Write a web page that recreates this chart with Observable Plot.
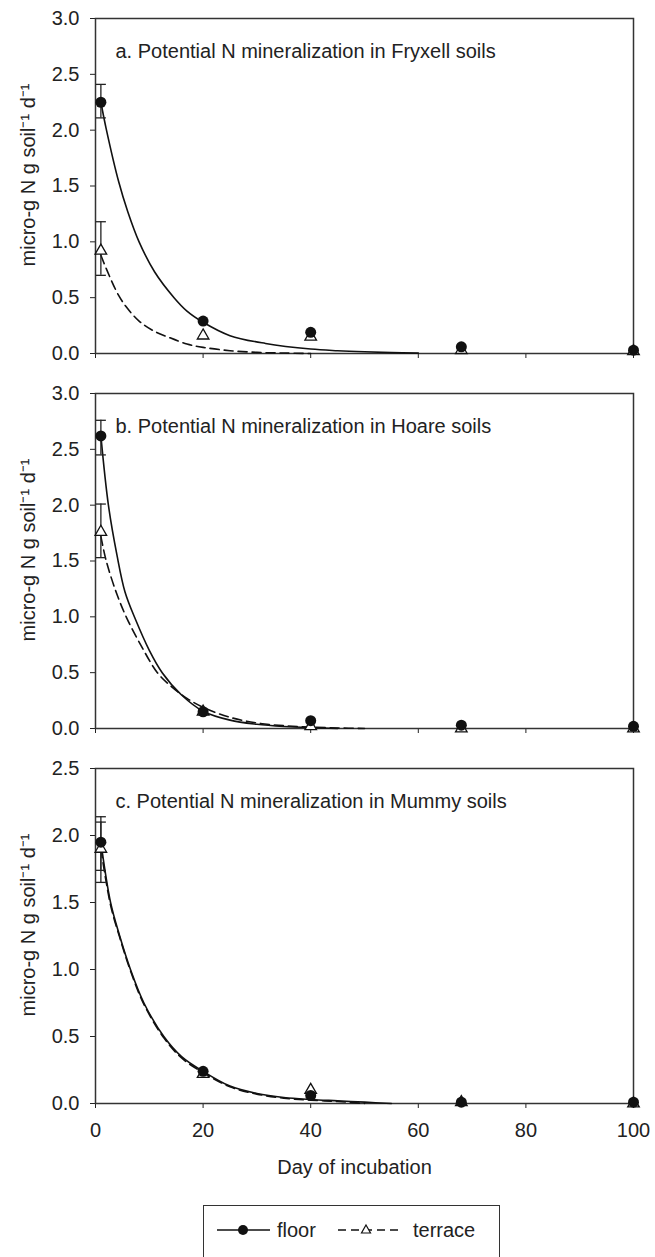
<!DOCTYPE html>
<html>
<head>
<meta charset="utf-8">
<script src="https://cdn.jsdelivr.net/npm/d3@7"></script>
<script src="https://cdn.jsdelivr.net/npm/@observablehq/plot@0.6"></script>
<style>
  html, body { margin: 0; padding: 0; background: #fff; }
  body { width: 655px; height: 1257px; overflow: hidden; position: relative;
         font-family: "Liberation Sans", Arimo, Arial, sans-serif; color: #222; }
  #charts svg { display: block; }
  #legend { position: absolute; left: 203px; top: 1205px; width: 297px; height: 60px;
            border: 1.5px solid #333; box-sizing: border-box; }
</style>
</head>
<body>
<div id="charts"></div>
<div id="legend"></div>
<script>
// ---- data ----
const days = [1, 20, 40, 68, 100];
const seriesNames = ["floor", "terrace"];
const panelTitles = [
  "a. Potential N mineralization in Fryxell soils",
  "b. Potential N mineralization in Hoare soils",
  "c. Potential N mineralization in Mummy soils"
];
const yLabel = "micro-g N g soil\u207B\u00B9 d\u207B\u00B9";
const xLabel = "Day of incubation";
const xTicks = [0, 20, 40, 60, 80, 100];
const yTicksAB = [0, 0.5, 1.0, 1.5, 2.0, 2.5, 3.0];
const yTicksC = [0, 0.5, 1.0, 1.5, 2.0, 2.5];

// measured means
const fryxellFloor   = [2.25, 0.29, 0.19, 0.06, 0.03];
const fryxellTerrace = [0.92, 0.16, 0.15, 0.03, 0.02];
const hoareFloor     = [2.62, 0.15, 0.07, 0.03, 0.02];
const hoareTerrace   = [1.76, 0.15, 0.02, 0.00, 0.00];
const mummyFloor     = [1.95, 0.24, 0.06, 0.01, 0.01];
const mummyTerrace   = [1.90, 0.22, 0.10, 0.01, 0.00];

// error bars (day 1): [low, high]
const errDay = 1;
const fryxellFloorErr   = [2.11, 2.41];
const fryxellTerraceErr = [0.70, 1.18];
const hoareFloorErr     = [2.45, 2.76];
const hoareTerraceErr   = [1.53, 2.01];
const mummyFloorErr     = [1.74, 2.14];
const mummyTerraceErr   = [1.65, 2.10];

// fitted curves
const fitFryxellFloorX = [1, 2, 4.3, 6, 8.1, 11, 14.6, 17, 20, 25, 31.6, 40, 45, 50, 55, 60];
const fitFryxellFloorY = [2.25, 2.01, 1.54, 1.27, 1.0, 0.73, 0.5, 0.38, 0.28, 0.16, 0.09, 0.04, 0.025, 0.015, 0.008, 0.003];
const fitFryxellTerraceX = [1, 2, 4.3, 6, 8.1, 10.5, 13.6, 17, 20, 25, 30, 35, 40];
const fitFryxellTerraceY = [0.88, 0.76, 0.52, 0.40, 0.29, 0.21, 0.145, 0.085, 0.055, 0.025, 0.01, 0.004, 0.0];
const fitHoareFloorX = [1, 2.4, 4, 5.5, 7.4, 10, 12.4, 16, 20, 25, 30, 35, 40, 45];
const fitHoareFloorY = [2.62, 2.0, 1.55, 1.22, 0.98, 0.7, 0.5, 0.3, 0.155, 0.075, 0.038, 0.018, 0.007, 0.0];
const fitHoareTerraceX = [1, 2, 4, 5.9, 8.5, 11.5, 14, 17, 20, 25, 30, 35, 40, 45, 50];
const fitHoareTerraceY = [1.72, 1.5, 1.2, 0.98, 0.74, 0.5, 0.38, 0.27, 0.19, 0.1, 0.05, 0.025, 0.012, 0.005, 0.0];
const fitMummyFloorX = [1, 2.8, 4.5, 6.5, 9, 12.7, 16, 20, 25, 30, 35, 40, 45, 50, 55];
const fitMummyFloorY = [1.95, 1.5, 1.25, 1.0, 0.75, 0.5, 0.35, 0.24, 0.13, 0.075, 0.045, 0.03, 0.02, 0.01, 0.0];
const fitMummyTerraceX = [1, 2.8, 4.5, 6.5, 9, 12.7, 16, 20, 25, 30, 35, 40, 45, 50];
const fitMummyTerraceY = [1.9, 1.48, 1.24, 0.99, 0.74, 0.49, 0.34, 0.23, 0.125, 0.07, 0.04, 0.025, 0.015, 0.0];

// ---- build ----
const FONT = "Liberation Sans, Arimo, Arial, sans-serif";
const capSymbol = {
  draw(context, size) {
    const w = Math.sqrt(size / Math.PI);
    context.moveTo(-w, 0);
    context.lineTo(w, 0);
  }
};
const pts = (xs, ys) => xs.map((x, i) => ({x, y: ys[i]}));

const panels = [
  {title: panelTitles[0], yMax: 3.0, yTicks: yTicksAB, floor: fryxellFloor, terrace: fryxellTerrace,
   floorErr: fryxellFloorErr, terraceErr: fryxellTerraceErr,
   fitF: pts(fitFryxellFloorX, fitFryxellFloorY), fitT: pts(fitFryxellTerraceX, fitFryxellTerraceY), last: false},
  {title: panelTitles[1], yMax: 3.0, yTicks: yTicksAB, floor: hoareFloor, terrace: hoareTerrace,
   floorErr: hoareFloorErr, terraceErr: hoareTerraceErr,
   fitF: pts(fitHoareFloorX, fitHoareFloorY), fitT: pts(fitHoareTerraceX, fitHoareTerraceY), last: false},
  {title: panelTitles[2], yMax: 2.5, yTicks: yTicksC, floor: mummyFloor, terrace: mummyTerrace,
   floorErr: mummyFloorErr, terraceErr: mummyTerraceErr,
   fitF: pts(fitMummyFloorX, fitMummyFloorY), fitT: pts(fitMummyTerraceX, fitMummyTerraceY), last: true}
];

const container = document.getElementById("charts");
for (const p of panels) {
  const errRows = [
    {x: errDay, lo: p.floorErr[0], hi: p.floorErr[1]},
    {x: errDay, lo: p.terraceErr[0], hi: p.terraceErr[1]}
  ];
  const caps = errRows.flatMap(d => [{x: d.x, y: d.lo}, {x: d.x, y: d.hi}]);
  const marks = [
    Plot.frame({stroke: "#333", strokeWidth: 1.5}),
    Plot.line(p.fitT, {x: "x", y: "y", stroke: "#111", strokeWidth: 1.6, strokeDasharray: "9,5", curve: "catmull-rom"}),
    Plot.line(p.fitF, {x: "x", y: "y", stroke: "#111", strokeWidth: 1.6, curve: "catmull-rom"}),
    Plot.ruleX(errRows, {x: "x", y1: "lo", y2: "hi", stroke: "#222", strokeWidth: 1.3}),
    Plot.dot(caps, {x: "x", y: "y", symbol: capSymbol, r: 5, stroke: "#222", strokeWidth: 1.3}),
    Plot.dot(pts(days, p.terrace), {x: "x", y: "y", symbol: "triangle", r: 4.3, fill: "white", stroke: "#111", strokeWidth: 1.3}),
    Plot.dot(pts(days, p.floor), {x: "x", y: "y", symbol: "circle", r: 5.5, fill: "#111"}),
    Plot.text([p.title], {frameAnchor: "top-left", dx: 20, dy: 33, lineAnchor: "middle", textAnchor: "start", fontSize: 20, fill: "#222"}),
    Plot.text([yLabel], {frameAnchor: "left", rotate: -90, dx: -67, dy: -11, lineAnchor: "middle", textAnchor: "middle", fontSize: 20, fill: "#222"})
  ];
  if (p.last) {
    marks.push(Plot.text([xLabel], {frameAnchor: "bottom", dy: 64, dx: -10, lineAnchor: "middle", textAnchor: "middle", fontSize: 20, fill: "#222"}));
  }
  const chart = Plot.plot({
    width: 655,
    height: p.last ? 433 : 375,
    marginLeft: 95, marginRight: 22, marginTop: 18, marginBottom: p.last ? 80 : 22,
    style: {fontFamily: FONT, fontSize: "20px", color: "#222", background: "white", overflow: "visible"},
    x: {domain: [0, 100], ticks: xTicks, tickSize: 5, tickPadding: 14,
        tickFormat: p.last ? d3.format("d") : () => "", label: null},
    y: {domain: [0, p.yMax], ticks: p.yTicks, tickSize: 5, tickPadding: 11,
        tickFormat: d3.format(".1f"), label: null},
    marks
  });
  container.appendChild(chart);
}

// ---- legend ----
const legend = document.getElementById("legend");
legend.innerHTML = `
<svg width="297" height="58" style="position:absolute;left:0;top:0;font-family:${FONT};font-size:20px;">
  <line x1="13" x2="66" y1="24" y2="24" stroke="#111" stroke-width="1.6"/>
  <circle cx="39" cy="24" r="5" fill="#111"/>
  <text x="73" y="24" dy="0.35em" fill="#222">${seriesNames[0]}</text>
  <line x1="134" x2="196" y1="24" y2="24" stroke="#111" stroke-width="1.6" stroke-dasharray="8,5"/>
  <path d="M162,19 L166.5,27 L157.5,27 Z" fill="white" stroke="#111" stroke-width="1.2"/>
  <text x="209" y="24" dy="0.35em" fill="#222">${seriesNames[1]}</text>
</svg>`;
</script>
</body>
</html>
